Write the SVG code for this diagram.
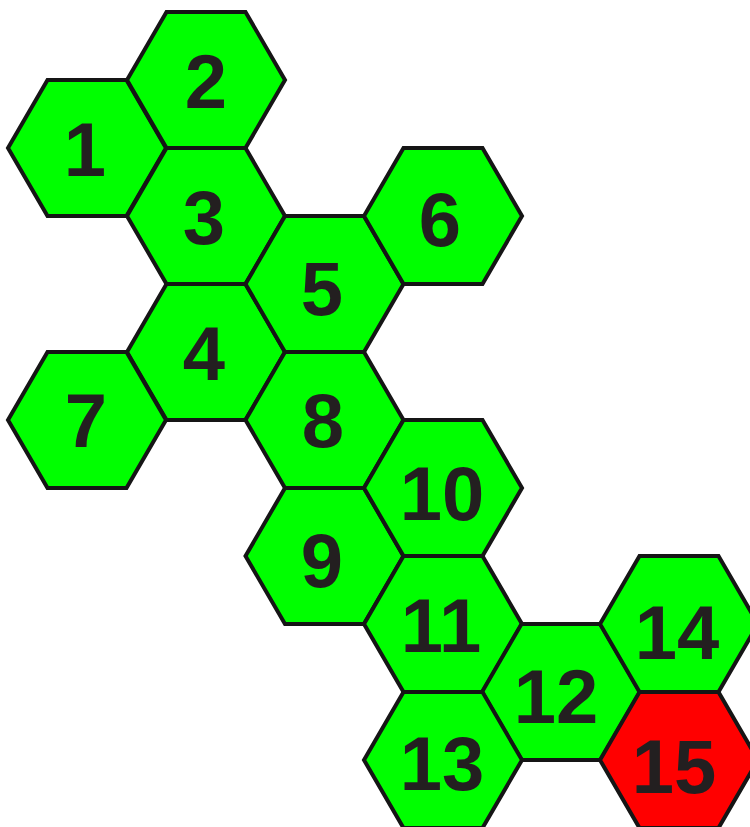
<svg xmlns="http://www.w3.org/2000/svg" width="750" height="827" viewBox="0 0 750 827">
<defs>
<style>
.hx{fill:#00ff00;stroke:#151515;stroke-width:4;stroke-linejoin:miter}
.red{fill:#ff0000}
.t{font-family:"Liberation Sans",Arial,sans-serif;font-weight:bold;font-size:76px;fill:#231f20;text-anchor:middle}
</style>
<polygon id="hex" points="-79,0 -39.5,-68 39.5,-68 79,0 39.5,68 -39.5,68"/>
</defs>
<rect width="750" height="827" fill="#ffffff"/>
<g id="connectors"></g>
<g id="n1"><use href="#hex" class="hx" x="87" y="148"/><text class="t" x="85" y="176">1</text></g>
<g id="n2"><use href="#hex" class="hx" x="206" y="80"/><text class="t" x="206" y="108">2</text></g>
<g id="n3"><use href="#hex" class="hx" x="206" y="216"/><text class="t" x="204" y="244">3</text></g>
<g id="n4"><use href="#hex" class="hx" x="206" y="352"/><text class="t" x="204" y="380">4</text></g>
<g id="n5"><use href="#hex" class="hx" x="324.5" y="284"/><text class="t" x="322" y="315">5</text></g>
<g id="n6"><use href="#hex" class="hx" x="443" y="216"/><text class="t" x="440" y="246">6</text></g>
<g id="n7"><use href="#hex" class="hx" x="87" y="420"/><text class="t" x="86" y="447">7</text></g>
<g id="n8"><use href="#hex" class="hx" x="324.5" y="420"/><text class="t" x="323" y="447">8</text></g>
<g id="n9"><use href="#hex" class="hx" x="324.5" y="556"/><text class="t" x="322" y="587">9</text></g>
<g id="n10"><use href="#hex" class="hx" x="443" y="488"/><text class="t" x="442" y="520">10</text></g>
<g id="n11"><use href="#hex" class="hx" x="443" y="624"/><text class="t" x="441" y="652">11</text></g>
<g id="n12"><use href="#hex" class="hx" x="561" y="692"/><text class="t" x="556" y="723">12</text></g>
<g id="n13"><use href="#hex" class="hx" x="443" y="760"/><text class="t" x="442" y="790">13</text></g>
<g id="n14"><use href="#hex" class="hx" x="679" y="624"/><text class="t" x="677" y="659">14</text></g>
<g id="n15"><use href="#hex" class="hx red" x="679" y="760"/><text class="t" x="674" y="793">15</text></g>
</svg>
